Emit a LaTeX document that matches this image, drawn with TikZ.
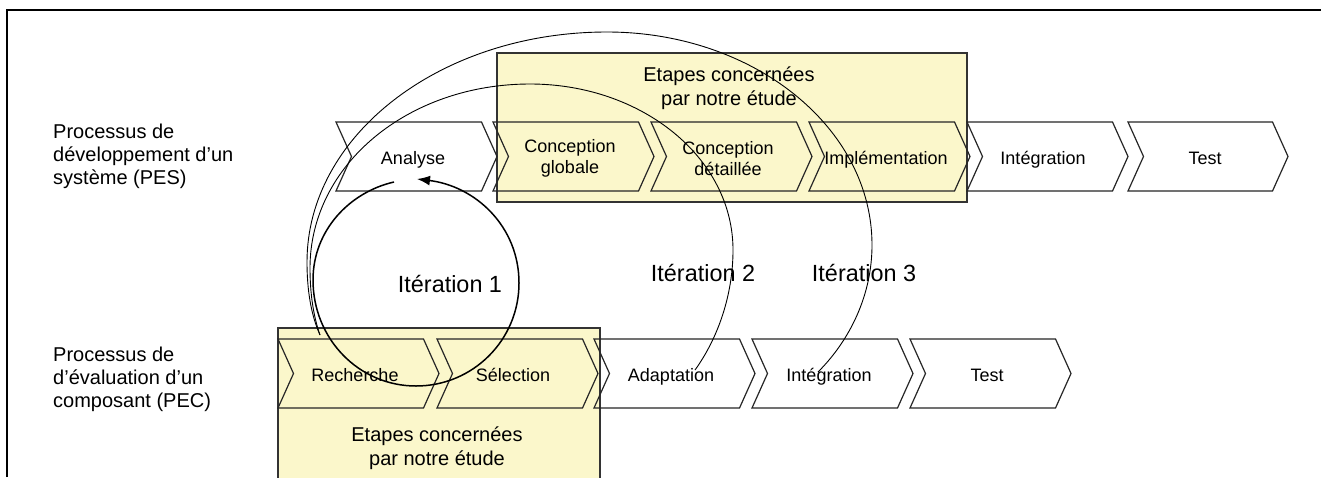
\documentclass[tikz,border=0pt]{standalone}
\usepackage{fontspec}
\setmainfont{Liberation Sans}
\usetikzlibrary{arrows.meta}
\definecolor{boxfill}{HTML}{FBF7CB}
\definecolor{boxline}{HTML}{333333}
\tikzset{
  x=1pt,y=-1pt,
  frameline/.style={line width=2pt,black},
  zonebox/.style={draw=boxline,fill=boxfill,line width=1.3pt},
  chevronline/.style={draw=black!85,line width=1.2pt,line join=miter},
  lbl/.style={font=\fontsize{18}{21}\selectfont,align=center,inner sep=0pt,text height=13pt,text depth=4pt},
  lbltwo/.style={font=\fontsize{18}{21}\selectfont,align=center,inner sep=0pt},
  side/.style={font=\fontsize{20}{23}\selectfont,align=left,anchor=west,inner sep=0pt},
  zonetext/.style={font=\fontsize{20}{24.5}\selectfont,align=center,inner sep=0pt},
  iter/.style={font=\fontsize{23.4}{28}\selectfont,inner sep=0pt,text height=17pt,text depth=0pt},
  thinarc/.style={draw=black,line width=0.9pt},
  thickarc/.style={draw=black,line width=1.5pt,-{Latex[length=13pt,width=10pt]}},
}
% name, left x, tip x, top y
\newcommand{\chevronshape}[4]{%
  \pgfmathsetmacro{\shx}{#3-15.5}%
  \pgfmathsetmacro{\nox}{#2+15.5}%
  \pgfmathsetmacro{\boty}{#4+69}%
  \pgfmathsetmacro{\midy}{#4+34.5}%
  \draw[chevronline] (#2,#4) -- (\shx,#4) -- (#3,\midy) -- (\shx,\boty) -- (#2,\boty) -- (\nox,\midy) -- cycle;%
}
\begin{document}
\begin{tikzpicture}
\useasboundingbox (0,0) rectangle (1321,477);
\fill[white] (0,0) rectangle (1321,477);
% frame, open on the right and at the bottom
\coordinate (frameA) at (7,477);
\coordinate (frameB) at (7,10);
\coordinate (frameC) at (1321,10);
\draw[frameline,line join=miter] (frameA) -- (frameB) -- (frameC);
% zones
\draw[zonebox] (497,53) rectangle (967,202);
\draw[zonebox] (278,328) rectangle (600,480);
% upper row
\chevronshape{a}{336}{497}{122}
\chevronshape{b}{493}{654}{122}
\chevronshape{c}{651}{812}{122}
\chevronshape{d}{809}{970}{122}
\chevronshape{e}{967}{1128}{122}
\chevronshape{f}{1128}{1288}{122}
% lower row
\chevronshape{g}{278}{439}{339}
\chevronshape{h}{437}{598}{339}
\chevronshape{i}{594}{755}{339}
\chevronshape{j}{752}{913}{339}
\chevronshape{k}{910}{1071}{339}
% texts
\node[side] (pes) at (53,156.5) {Processus de\\développement d’un\\système (PES)};
\node[side] (pec) at (53,379) {Processus de\\d’évaluation d’un\\composant (PEC)};
\node[zonetext] (zoneup) at (729,88) {Etapes concernées\\par notre étude};
\node[zonetext] (zonedown) at (437,448) {Etapes concernées\\par notre étude};
\node[lbl] (analyse) at (413,160) {Analyse};
\node[lbltwo] (cglobale) at (570,158.5) {Conception\\globale};
\node[lbltwo] (cdetail) at (728,158.5) {Conception\\détaillée};
\node[lbl] (impl) at (886,160) {Implémentation};
\node[lbl] (integ) at (1043,160) {Intégration};
\node[lbl] (testa) at (1205,160) {Test};
\node[lbl] (rech) at (355,377) {Recherche};
\node[lbl] (sel) at (513,377) {Sélection};
\node[lbl] (adapt) at (671,377) {Adaptation};
\node[lbl] (integb) at (829,377) {Intégration};
\node[lbl] (testb) at (987,377) {Test};
\node[iter] (it1) at (450,284) {Itération 1};
\node[iter] (it2) at (703,273) {Itération 2};
\node[iter] (it3) at (864,273) {Itération 3};
% iteration loops
\coordinate (fromRech) at (320,335);
\coordinate (toAdapt) at (695,370);
\coordinate (toInteg) at (818,372);
\coordinate (loopStart) at (394,182);
\coordinate (loopEnd) at (417,179);
\draw[thinarc] (fromRech) .. controls (313,315) and (310,292) .. (310,268)
  .. controls (310,165) and (408,84) .. (530,84)
  .. controls (642,84) and (733,158) .. (733,250)
  .. controls (733,295) and (718,338) .. (toAdapt);
\draw[thinarc] (fromRech) .. controls (311,315) and (307,290) .. (307,262)
  .. controls (307,135) and (441,32) .. (607,32)
  .. controls (753,32) and (872,127) .. (872,245)
  .. controls (872,295) and (850,340) .. (toInteg);
\draw[thickarc] (loopStart) .. controls (350,192) and (313,230) .. (313,280)
  .. controls (313,339) and (359,386) .. (416,386)
  .. controls (473,386) and (519,340) .. (519,283)
  .. controls (519,226) and (475,186) .. (loopEnd);
\end{tikzpicture}
\end{document}
